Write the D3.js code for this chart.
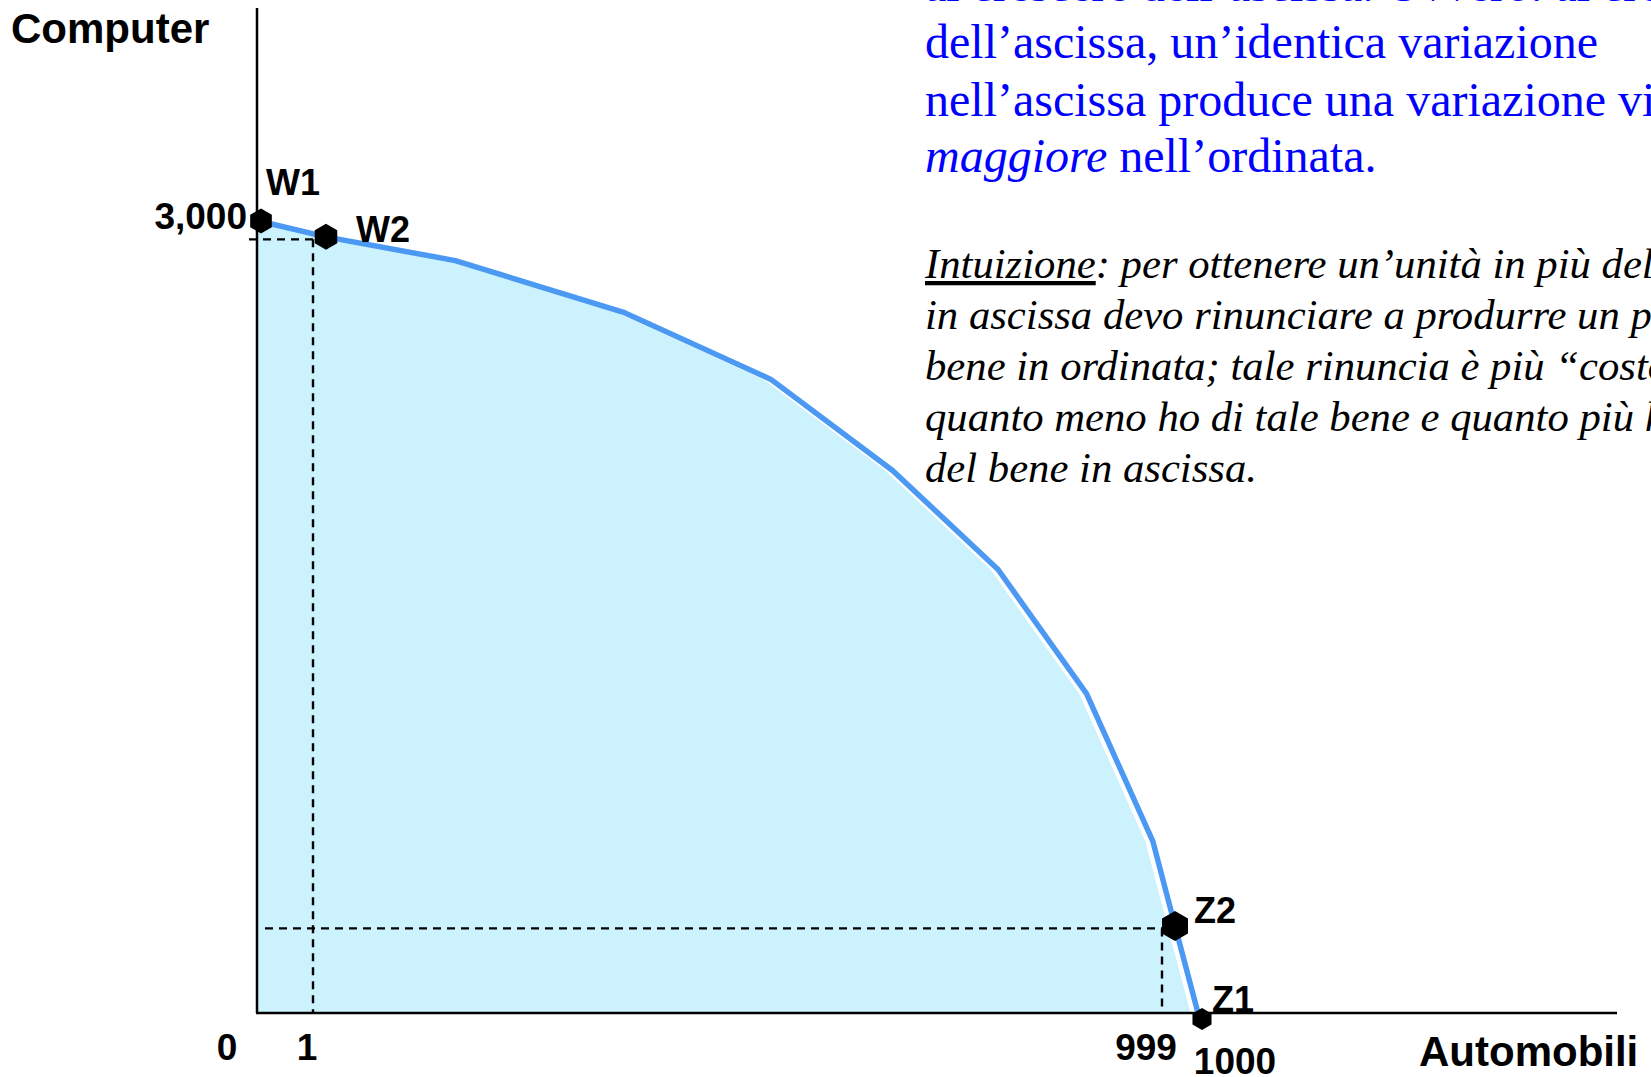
<!DOCTYPE html>
<html>
<head>
<meta charset="utf-8">
<script src="https://cdn.jsdelivr.net/npm/d3@7"></script>
<style>
  html, body { margin: 0; padding: 0; background: #ffffff; overflow: hidden; }
  svg { display: block; }
</style>
</head>
<body>
<svg id="chart" width="1651" height="1077"></svg>
<script>
// Frontiera delle possibilità produttive: Automobili (ascissa) vs Computer (ordinata)
const automobili = [0, 1, 153, 350, 524, 667, 791, 895, 973, 999, 1000];
const computer   = [3000, 2940, 2850, 2655, 2400, 2055, 1680, 1210, 650, 330, 0];

// Punti evidenziati lungo la frontiera (indici nelle serie)
const pointNames = ["W1", "W2", "Z2", "Z1"];
const pointIndex = [0, 1, 9, 10];

// Punti da cui partono le linee tratteggiate di proiezione
const guideIndex = [1, 9];

const xTickValues = [0, 1, 999, 1000];
const xTickLabels = ["0", "1", "999", "1000"];
const yTickValues = [3000];
const yTickLabels = ["3,000"];

const xTitle = "Automobili";
const yTitle = "Computer";

const blueLines = [
  [{ t: "al crescere dell\u2019ascissa. Ovvero: al crescere" }],
  [{ t: "dell\u2019ascissa, un\u2019identica variazione" }],
  [{ t: "nell\u2019ascissa produce una variazione via via" }],
  [{ t: "maggiore", i: true }, { t: " nell\u2019ordinata." }]
];
const blackLines = [
  [{ t: "Intuizione", u: true }, { t: ": per ottenere un\u2019unità in più del bene" }],
  [{ t: "in ascissa devo rinunciare a produrre un po\u2019 del" }],
  [{ t: "bene in ordinata; tale rinuncia è più \u201Ccostosa\u201D" }],
  [{ t: "quanto meno ho di tale bene e quanto più ho" }],
  [{ t: "del bene in ascissa." }]
];

const data = automobili.map((a, i) => ({ x: a, y: computer[i] }));

const svg = d3.select("#chart");
const W = 1651, H = 1077;

const axisLeft = 257, axisBottom = 1013, axisTop = 8, axisRight = 1617;

// Scala a tratti: le prime e le ultime unità sono "ingrandite"
const x = d3.scaleLinear().domain(xTickValues).range([259, 326, 1175, 1198]);
const y = d3.scaleLinear().domain([0, 3000]).range([axisBottom, 221]);

const sans = "'Liberation Sans', Arial, sans-serif";
const serif = "'Liberation Serif', 'Times New Roman', serif";

// Area sotto la frontiera
svg.append("clipPath").attr("id", "plotClip")
  .append("rect").attr("x", axisLeft).attr("y", 0)
  .attr("width", W - axisLeft).attr("height", axisBottom);

const fillShift = -7.5;
svg.append("path")
  .datum(data)
  .attr("clip-path", "url(#plotClip)")
  .attr("fill", "#ccf2fd")
  .attr("d", d3.area()
    .x(d => x(d.x) + fillShift)
    .y0(y(0))
    .y1(d => y(d.y)));

// Linee tratteggiate di proiezione
const guideDx = -13, guideDy = 2.5;
guideIndex.forEach((gi, k) => {
  const d = data[gi];
  const gx = x(d.x) + guideDx, gy = y(d.y) + guideDy;
  const startX = k === 0 ? axisLeft - 8 : axisLeft + 8;
  svg.append("line")
    .attr("x1", startX).attr("x2", gx).attr("y1", gy).attr("y2", gy)
    .attr("stroke", "#000").attr("stroke-width", 2.4).attr("stroke-dasharray", "8,6");
  svg.append("line")
    .attr("x1", gx).attr("x2", gx).attr("y1", gy).attr("y2", axisBottom)
    .attr("stroke", "#000").attr("stroke-width", 2.4).attr("stroke-dasharray", "8,6");
});

// Assi
svg.append("line")
  .attr("x1", axisLeft).attr("x2", axisLeft).attr("y1", axisTop).attr("y2", axisBottom)
  .attr("stroke", "#000").attr("stroke-width", 2.5);
svg.append("line")
  .attr("x1", axisLeft - 1).attr("x2", axisRight).attr("y1", axisBottom).attr("y2", axisBottom)
  .attr("stroke", "#000").attr("stroke-width", 2.5);

// Frontiera
svg.append("path")
  .datum(data)
  .attr("fill", "none")
  .attr("stroke", "#4c99f4")
  .attr("stroke-width", 5.5)
  .attr("stroke-linejoin", "round")
  .attr("d", d3.line().x(d => x(d.x)).y(d => y(d.y)));

// Marcatori esagonali (vertice in alto e in basso)
const hexagon = {
  draw(context, size) {
    const r = Math.sqrt(size);
    for (let k = 0; k < 6; k++) {
      const a = Math.PI / 6 + k * Math.PI / 3;
      const px = r * Math.cos(a), py = r * Math.sin(a);
      if (k === 0) context.moveTo(px, py); else context.lineTo(px, py);
    }
    context.closePath();
  }
};
const markerOffset = { W1: [2, 0], W2: [0, 0], Z2: [0, 0], Z1: [4, 6] };
const markerRadius = { W1: 12.5, W2: 13, Z2: 15, Z1: 11 };
pointNames.forEach((name, k) => {
  const d = data[pointIndex[k]];
  const r = markerRadius[name];
  svg.append("path")
    .attr("d", d3.symbol().type(hexagon).size(r * r)())
    .attr("transform", `translate(${x(d.x) + markerOffset[name][0]},${y(d.y) + markerOffset[name][1]})`)
    .attr("fill", "#000");
});

// Etichette dei punti
const labelOffset = { W1: [7, -26], W2: [30, 5], Z2: [19, -3], Z1: [14, -1] };
pointNames.forEach((name, k) => {
  const d = data[pointIndex[k]];
  svg.append("text")
    .attr("x", x(d.x) + labelOffset[name][0])
    .attr("y", y(d.y) + labelOffset[name][1])
    .attr("font-family", sans).attr("font-weight", "bold").attr("font-size", 36)
    .attr("fill", "#000")
    .text(name);
});

// Etichette dei valori sugli assi
const xTickOffset = [[-32, 47], [-19, 47], [-29, 47], [37, 61]];
xTickValues.forEach((v, k) => {
  svg.append("text")
    .attr("x", x(v) + xTickOffset[k][0])
    .attr("y", y(0) + xTickOffset[k][1])
    .attr("text-anchor", "middle")
    .attr("font-family", sans).attr("font-weight", "bold").attr("font-size", 37)
    .attr("fill", "#000")
    .text(xTickLabels[k]);
});
yTickValues.forEach((v, k) => {
  svg.append("text")
    .attr("x", axisLeft - 10)
    .attr("y", y(v) + 8)
    .attr("text-anchor", "end")
    .attr("font-family", sans).attr("font-weight", "bold").attr("font-size", 37)
    .attr("fill", "#000")
    .text(yTickLabels[k]);
});

// Titoli degli assi
svg.append("text")
  .attr("x", 11).attr("y", 43)
  .attr("font-family", sans).attr("font-weight", "bold").attr("font-size", 42)
  .attr("fill", "#000").text(yTitle);
svg.append("text")
  .attr("x", 1419).attr("y", 1066)
  .attr("font-family", sans).attr("font-weight", "bold").attr("font-size", 42)
  .attr("fill", "#000").text(xTitle);

// Testo esplicativo (blu)
const textLeft = 925;
const blueBaselines = [1, 58, 116, 172];
blueLines.forEach((parts, i) => {
  const t = svg.append("text")
    .attr("x", textLeft).attr("y", blueBaselines[i])
    .attr("font-family", serif).attr("font-size", 48)
    .attr("fill", "#0000ff");
  parts.forEach(p => {
    t.append("tspan")
      .attr("font-style", p.i ? "italic" : "normal")
      .text(p.t);
  });
});

// Testo esplicativo (nero, corsivo)
const blackBaselines = [278, 329, 380, 431, 482];
blackLines.forEach((parts, i) => {
  const t = svg.append("text")
    .attr("x", textLeft).attr("y", blackBaselines[i])
    .attr("font-family", serif).attr("font-size", 42.7)
    .attr("font-style", "italic")
    .attr("fill", "#000");
  parts.forEach(p => {
    t.append("tspan")
      .attr("text-decoration", p.u ? "underline" : null)
      .text(p.t);
  });
});
</script>
</body>
</html>
